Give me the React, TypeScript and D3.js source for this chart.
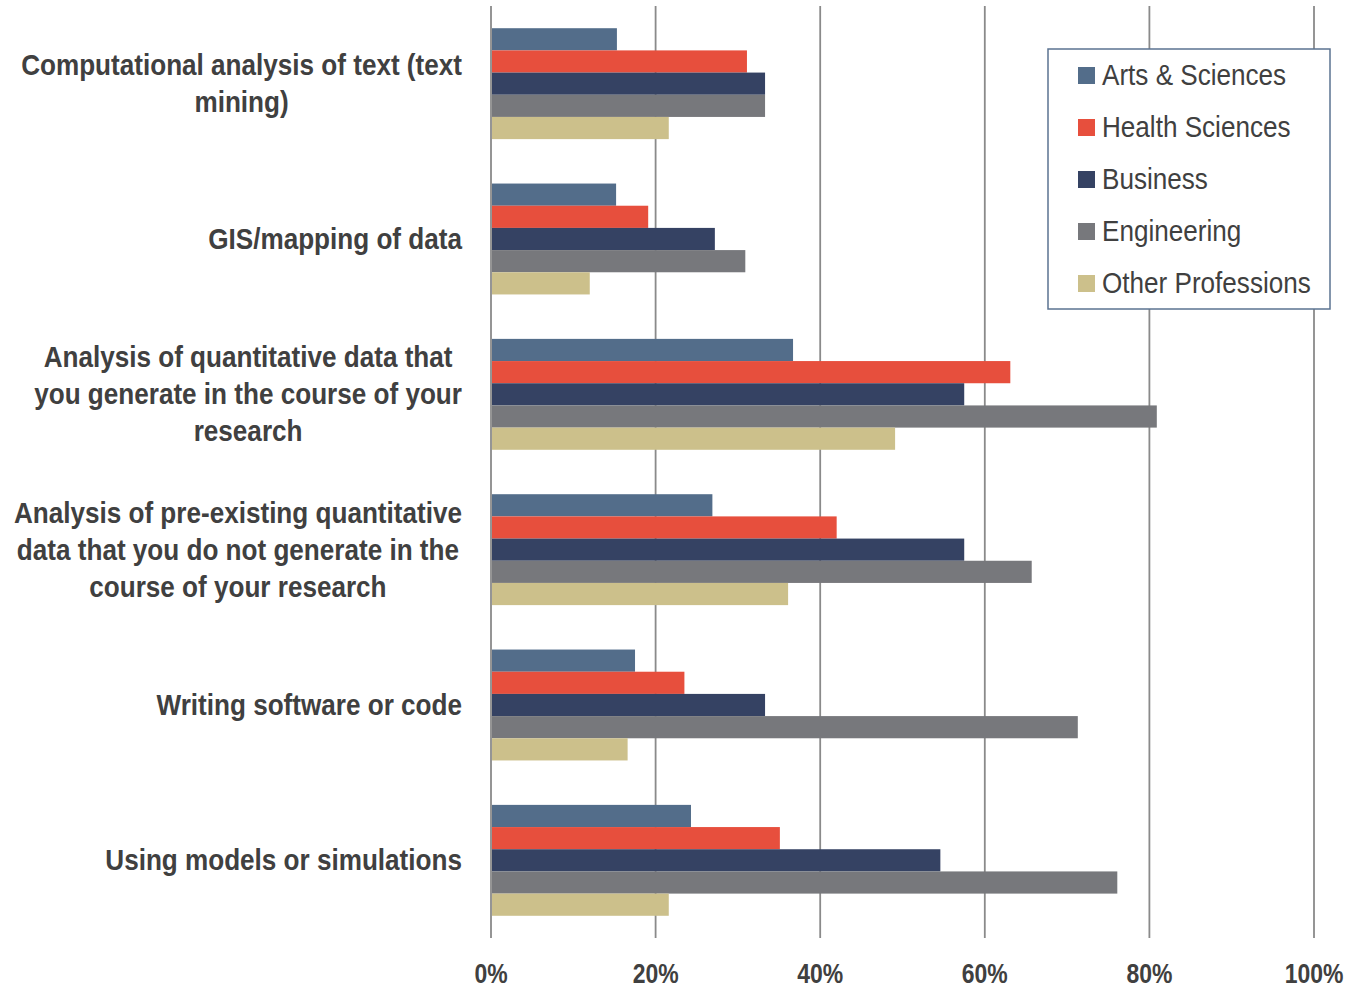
import React, { useEffect, useRef } from "react";
import * as d3 from "d3";

const categories = [
  "Computational analysis of text (text|mining)",
  "GIS/mapping of data",
  "Analysis of quantitative data that|you generate in the course of your|research",
  "Analysis of pre-existing quantitative|data that you do not generate in the|course of your research",
  "Writing software or code",
  "Using models or simulations",
];
const seriesNames = ["Arts & Sciences", "Health Sciences", "Business", "Engineering", "Other Professions"];
const seriesColors = ["#536d8a", "#e74f3d", "#354263", "#77787c", "#ccc08b"];
const artsSciences = [15.3, 15.2, 36.7, 26.9, 17.5, 24.3];
const healthSciences = [31.1, 19.1, 63.1, 42.0, 23.5, 35.1];
const business = [33.3, 27.2, 57.5, 57.5, 33.3, 54.6];
const engineering = [33.3, 30.9, 80.9, 65.7, 71.3, 76.1];
const otherProfessions = [21.6, 12.0, 49.1, 36.1, 16.6, 21.6];
const tickValues = [0, 20, 40, 60, 80, 100];

const W = 1349, H = 988;
const FONT = "'Liberation Sans', Arial, sans-serif";
const NARROW_TICK = 0.82;
const NARROW_LABEL = 0.87;
const NARROW_LEGEND = 0.9;

export default function App() {
  const ref = useRef<SVGSVGElement>(null);
  useEffect(() => {
    const svg = d3.select(ref.current);
    svg.selectAll("*").remove();
    const series = [artsSciences, healthSciences, business, engineering, otherProfessions];
    const left = 491, right = 1314, top = 6, bottom = 938;
    const x = d3.scaleLinear().domain([0, 100]).range([left, right]);
    const y0 = d3.scaleBand<number>().domain(d3.range(categories.length)).range([top, bottom]).paddingInner(0.286).paddingOuter(0.143);
    const y1 = d3.scaleBand<number>().domain(d3.range(series.length)).range([0, y0.bandwidth()]);

    // gridlines
    svg.append("g").selectAll("line").data(tickValues).join("line")
      .attr("x1", d => x(d)).attr("x2", d => x(d))
      .attr("y1", top).attr("y2", bottom)
      .attr("stroke", "#8a8a8a").attr("stroke-width", 1.8);

    // bars
    const g = svg.append("g");
    categories.forEach((_, ci) => {
      series.forEach((s, si) => {
        g.append("rect")
          .attr("x", x(0) + 1)
          .attr("y", (y0(ci) as number) + (y1(si) as number))
          .attr("width", x(s[ci]) - x(0) - 1)
          .attr("height", y1.bandwidth())
          .attr("fill", seriesColors[si]);
      });
    });

    // tick labels
    svg.append("g").selectAll("text").data(tickValues).join("text")
      .attr("transform", d => `translate(${x(d)},983) scale(${NARROW_TICK},1)`)
      .attr("text-anchor", "middle")
      .attr("font-family", FONT).attr("font-weight", "bold").attr("font-size", 28)
      .attr("fill", "#404040")
      .text(d => `${d}%`);

    // category labels
    const lh = 37;
    categories.forEach((c, ci) => {
      const lines = c.split("|");
      const cy = (y0(ci) as number) + y0.bandwidth() / 2;
      const t = svg.append("text")
        .attr("font-family", FONT).attr("font-weight", "bold").attr("font-size", 30)
        .attr("fill", "#404040").attr("text-anchor", "middle");
      lines.forEach((ln, li) => {
        t.append("tspan").attr("x", 0).attr("y", cy + (li - (lines.length - 1) / 2) * lh + 10).text(ln);
      });
      let maxW = 0;
      t.selectAll<SVGTSpanElement, unknown>("tspan").each(function () {
        maxW = Math.max(maxW, this.getComputedTextLength());
      });
      const cx = 462 - (maxW * NARROW_LABEL) / 2;
      t.attr("transform", `translate(${cx},0) scale(${NARROW_LABEL},1)`);
    });

    // legend
    const lg = svg.append("g");
    lg.append("rect").attr("x", 1048).attr("y", 49).attr("width", 282).attr("height", 260)
      .attr("fill", "#fff").attr("stroke", "#5b7391").attr("stroke-width", 1.5);
    seriesNames.forEach((n, i) => {
      const yy = 75 + i * 52;
      lg.append("rect").attr("x", 1078).attr("y", yy - 8).attr("width", 17).attr("height", 17).attr("fill", seriesColors[i]);
      lg.append("text").attr("transform", `translate(1102,${yy + 10}) scale(${NARROW_LEGEND},1)`)
        .attr("font-family", FONT).attr("font-size", 29).attr("fill", "#404040").text(n);
    });
  }, []);
  return (
    <svg ref={ref} width={W} height={H} style={{ position: "absolute", left: 0, top: 0, background: "#fff" }} />
  );
}
